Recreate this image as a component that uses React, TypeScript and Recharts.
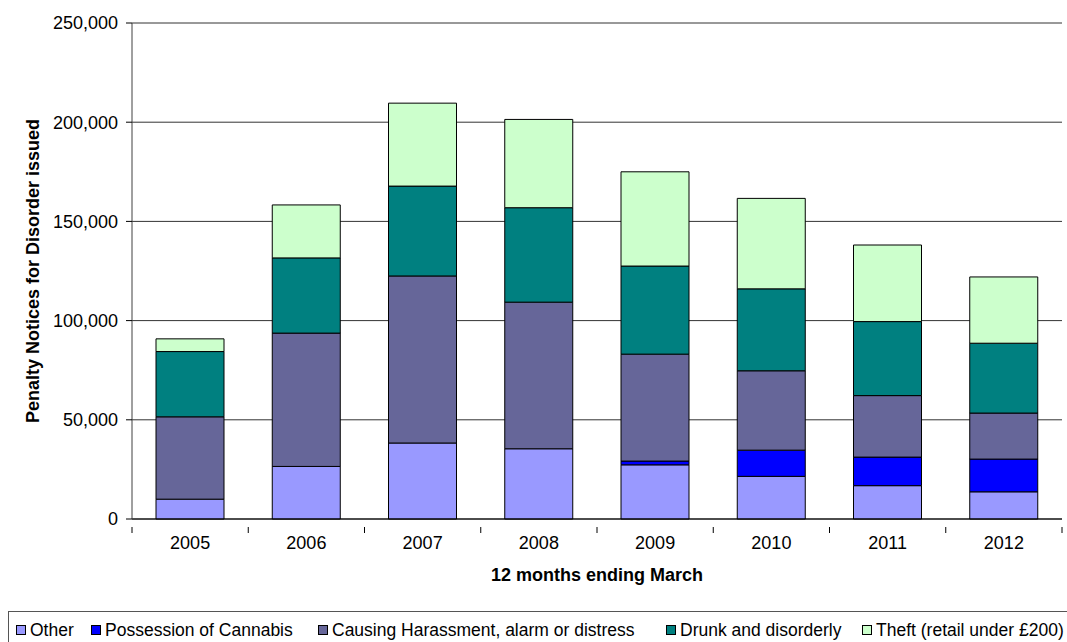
import { BarChart, Bar, XAxis, YAxis, CartesianGrid } from 'recharts';

const YEARS = ['2005', '2006', '2007', '2008', '2009', '2010', '2011', '2012'];
const OTHER = [10000, 26500, 38300, 35400, 27300, 21500, 16800, 13700];
const CANNABIS = [0, 0, 0, 0, 1900, 13200, 14400, 16500];
const HARASSMENT = [41500, 67200, 84200, 73900, 53900, 40000, 31000, 23200];
const DRUNK = [32900, 37900, 45300, 47600, 44400, 41300, 37300, 35200];
const THEFT = [6400, 26700, 41800, 44500, 47500, 45600, 38600, 33400];
const Y_TICKS = [0, 50000, 100000, 150000, 200000, 250000];

const SERIES = [
  { key: 'other', name: 'Other', color: '#9999FF', legendX: 16 },
  { key: 'cannabis', name: 'Possession of Cannabis', color: '#0000FF', legendX: 91 },
  { key: 'harassment', name: 'Causing Harassment, alarm or distress', color: '#666699', legendX: 318 },
  { key: 'drunk', name: 'Drunk and disorderly', color: '#008080', legendX: 666 },
  { key: 'theft', name: 'Theft (retail under £200)', color: '#CCFFCC', legendX: 862 },
];

const data = YEARS.map((year, i) => ({
  year,
  other: OTHER[i],
  cannabis: CANNABIS[i],
  harassment: HARASSMENT[i],
  drunk: DRUNK[i],
  theft: THEFT[i],
}));

const FONT = '"Liberation Sans", Arial, sans-serif';
const W = 1067;
const H = 642;
const PLOT_LEFT = 132;
const PLOT_RIGHT = 1062;
const BAND = (PLOT_RIGHT - PLOT_LEFT) / YEARS.length;

function YearTick(props: { x: number; y: number; payload: { value: string }; index: number }) {
  const { x, y, payload, index } = props;
  return (
    <g>
      <line x1={x - BAND / 2} x2={x - BAND / 2} y1={y} y2={y + 6} stroke="#000" />
      {index === YEARS.length - 1 && (
        <line x1={x + BAND / 2} x2={x + BAND / 2} y1={y} y2={y + 6} stroke="#000" />
      )}
      <text x={x} y={y + 22} textAnchor="middle" fontSize={18} fill="#000" fontFamily={FONT}>
        {payload.value}
      </text>
    </g>
  );
}

export default function App() {
  return (
    <div style={{ position: 'absolute', left: 0, top: 0, width: W, height: H, background: '#fff', fontFamily: FONT }}>
      <BarChart
        width={W}
        height={H}
        data={data}
        margin={{ top: 23, right: W - PLOT_RIGHT, left: 0, bottom: 63 }}
        barSize={68}
      >
        <CartesianGrid vertical={false} stroke="#333" />
        <XAxis
          dataKey="year"
          height={60}
          axisLine={{ stroke: '#000' }}
          tickLine={false}
          interval={0}
          tick={(p: any) => <YearTick {...p} />}
          label={{
            content: ({ viewBox }: any) => (
              <text
                x={viewBox.x + viewBox.width / 2}
                y={viewBox.y + 62}
                textAnchor="middle"
                fontSize={18}
                fontWeight="bold"
                fill="#000"
                fontFamily={FONT}
              >
                12 months ending March
              </text>
            ),
          }}
        />
        <YAxis
          width={PLOT_LEFT}
          domain={[0, 250000]}
          ticks={Y_TICKS}
          interval={0}
          axisLine={{ stroke: '#404040' }}
          tickLine={{ stroke: '#000' }}
          tickSize={6}
          tickMargin={8}
          tick={{ fontSize: 18, fill: '#000', fontFamily: FONT }}
          tickFormatter={(v: number) => v.toLocaleString('en-US')}
          label={{
            content: ({ viewBox }: any) => {
              const cx = viewBox.x + 33;
              const cy = viewBox.y + viewBox.height / 2;
              return (
                <text
                  x={cx}
                  y={cy}
                  transform={`rotate(-90 ${cx} ${cy})`}
                  textAnchor="middle"
                  dominantBaseline="central"
                  fontSize={18}
                  fontWeight="bold"
                  fill="#000"
                  fontFamily={FONT}
                >
                  Penalty Notices for Disorder issued
                </text>
              );
            },
          }}
        />
        {SERIES.map(s => (
          <Bar
            key={s.key}
            dataKey={s.key}
            name={s.name}
            stackId="a"
            fill={s.color}
            stroke="#000"
            strokeWidth={1}
            isAnimationActive={false}
          />
        ))}
      </BarChart>

      {/* Legend box */}
      <div
        style={{
          position: 'absolute',
          left: 8,
          top: 611,
          width: W,
          height: 40,
          border: '1px solid #555',
          boxSizing: 'border-box',
        }}
      />
      {SERIES.map(s => (
        <div
          key={s.key}
          style={{
            position: 'absolute',
            left: s.legendX,
            top: 620,
            height: 20,
            display: 'flex',
            alignItems: 'center',
            whiteSpace: 'nowrap',
            fontSize: 17.5,
            color: '#000',
          }}
        >
          <span
            style={{
              display: 'inline-block',
              width: 8,
              height: 8,
              background: s.color,
              border: '1px solid #000',
              marginRight: 4,
            }}
          />
          {s.name}
        </div>
      ))}
    </div>
  );
}
